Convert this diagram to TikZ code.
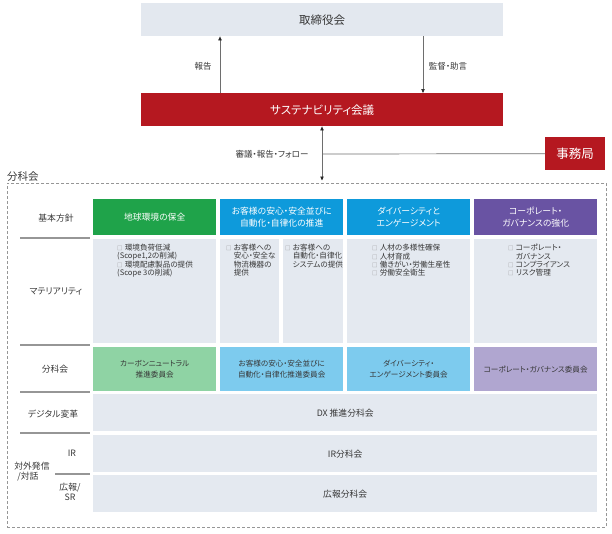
\documentclass[tikz,border=0pt]{standalone}
\usepackage{fontspec}
\setmainfont[RawFeature=+palt]{Noto Sans CJK JP}
\usetikzlibrary{arrows.meta}
\definecolor{topgray}{RGB}{227,232,239}
\definecolor{cellgray}{RGB}{228,233,240}
\definecolor{dred}{RGB}{181,24,32}
\definecolor{hgreen}{RGB}{31,163,74}
\definecolor{hblue}{RGB}{14,154,219}
\definecolor{hpurple}{RGB}{105,83,163}
\definecolor{lgreen}{RGB}{143,211,164}
\definecolor{lblue}{RGB}{125,203,238}
\definecolor{lpurple}{RGB}{176,166,208}
\definecolor{txt}{RGB}{55,55,55}
\definecolor{sepgray}{RGB}{150,150,150}
\definecolor{lngray}{RGB}{110,110,110}
\definecolor{sqgray}{RGB}{140,140,140}
\newcommand\bx{\makebox[7.6pt][l]{\color{sqgray}\fontsize{5.5}{5.5}\selectfont □}}
\newcommand\ind{\makebox[7.6pt]{}}
\begin{document}
\begin{tikzpicture}[x=1pt,y=-1pt,
  box/.style={inner sep=0pt, anchor=north west, align=center, text=txt},
  hdr/.style={box, text=white, minimum height=36pt, minimum width=123pt, font=\fontsize{8.8}{12}\selectfont},
  com/.style={box, minimum height=44pt, minimum width=123pt, font=\fontsize{7.6}{10.8}\selectfont},
  mat/.style={box, fill=cellgray, minimum height=104pt},
  mtxt/.style={inner sep=0pt, anchor=north west, align=left, text=txt, font=\fontsize{7.6}{8.4}\selectfont},
  wide/.style={box, fill=cellgray, minimum width=504pt, minimum height=37pt, font=\fontsize{8.8}{10}\selectfont},
  rlabel/.style={inner sep=0pt, text=txt, align=center, font=\fontsize{8.8}{10}\selectfont},
  sep/.style={draw=sepgray, line width=1.1pt},
  conn/.style={draw=lngray, line width=0.7pt},
  tipa/.tip={Triangle[length=4pt,width=3.4pt,color=black!85]},
  smalllbl/.style={inner sep=0pt, text=txt, font=\fontsize{8.5}{10}\selectfont}
]
\useasboundingbox (0,0) rectangle (612,533);

% top boxes
\node[box, fill=topgray, minimum width=362pt, minimum height=33pt, font=\fontsize{11.5}{13}\selectfont] (board) at (141,3) {取締役会};
\node[box, fill=dred, text=white, minimum width=362pt, minimum height=33pt, font=\fontsize{11.5}{13}\selectfont] (council) at (141,93) {サステナビリティ会議};
\node[box, fill=dred, text=white, minimum width=60pt, minimum height=33pt, font=\fontsize{12.5}{14}\selectfont] (office) at (545,137) {事務局};

% dashed frame
\node[box, draw=sepgray, dash pattern=on 3pt off 2pt, line width=0.8pt, minimum width=599pt, minimum height=344pt] (sub) at (7,183) {};
\node[inner sep=0pt, anchor=base west, text=txt, font=\fontsize{10.5}{12}\selectfont] (sublbl) at (7,180) {分科会};

% connectors
\coordinate (vx) at (322,154);
\draw[conn, -tipa] ([xshift=79pt]council.north west) -- ([xshift=79pt]board.south west);
\draw[conn, -tipa] ([xshift=282pt]board.south west) -- ([xshift=282pt]council.north west);
\draw[conn, tipa-tipa, shorten >=2.5pt] ([xshift=181pt]council.south west) -- ([xshift=181pt]council.south west |- sub.north);
\draw[conn] (vx) -- (office.west);
\node[smalllbl] (l1) at (203,66) {報告};
\node[smalllbl] (l2) at (448,66) {監督・助言};
\node[smalllbl] (l3) at (272,154) {審議・報告・フォロー};

% header row
\node[hdr, fill=hgreen] (h1) at (93,199) {地球環境の保全};
\node[hdr, fill=hblue] (h2) at (220,199) {お客様の安心・安全並びに\\自動化・自律化の推進};
\node[hdr, fill=hblue] (h3) at (347,199) {ダイバーシティと\\エンゲージメント};
\node[hdr, fill=hpurple] (h4) at (474,199) {コーポレート・\\ガバナンスの強化};

% materiality cells
\node[mat, minimum width=123pt] (m1) at (93,239) {};
\node[mat, minimum width=59pt] (m2a) at (220,239) {};
\node[mat, minimum width=60pt] (m2b) at (283,239) {};
\node[mat, minimum width=123pt] (m3) at (347,239) {};
\node[mat, minimum width=123pt] (m4) at (474,239) {};

\node[mtxt] (t1) at (117,244) {\bx 環境負荷低減\\(Scope1,2の削減)\\\bx 環境配慮製品の提供\\(Scope 3の削減)};
\node[mtxt] (t2a) at (226,244) {\bx お客様への\\\ind 安心・安全な\\\ind 物流機器の\\\ind 提供};
\node[mtxt] (t2b) at (285,244) {\bx お客様への\\\ind 自動化・自律化\\\ind システムの提供};
\node[mtxt] (t3) at (372,244) {\bx 人材の多様性確保\\\bx 人材育成\\\bx 働きがい・労働生産性\\\bx 労働安全衛生};
\node[mtxt] (t4) at (508,244) {\bx コーポレート・\\\ind ガバナンス\\\bx コンプライアンス\\\bx リスク管理};

% committee row
\node[com, fill=lgreen] (c1) at (93,347) {カーボンニュートラル\\推進委員会};
\node[com, fill=lblue] (c2) at (220,347) {お客様の安心・安全並びに\\自動化・自律化推進委員会};
\node[com, fill=lblue] (c3) at (347,347) {ダイバーシティ・\\エンゲージメント委員会};
\node[com, fill=lpurple] (c4) at (474,347) {コーポレート・ガバナンス委員会};

% wide rows
\node[wide] (dx) at (93,394) {DX 推進分科会};
\node[wide] (ir) at (93,435) {IR分科会};
\node[wide] (pr) at (93,475) {広報分科会};

% row labels
\node[rlabel] (r1) at (56,218) {基本方針};
\node[rlabel] (r2) at (56,291) {マテリアリティ};
\node[rlabel] (r3) at (55,369) {分科会};
\node[rlabel] (r4) at (53,414) {デジタル変革};
\node[rlabel, align=left] (r5) at (32,472) {対外発信\\\makebox[3pt]{}/対話};
\node[rlabel] (r6) at (72,453) {IR};
\node[rlabel] (r7) at (70,492) {広報/\\SR};

% separators
\draw[sep] (20,238) -- (90,238);
\draw[sep] (20,345) -- (90,345);
\draw[sep] (20,392) -- (90,392);
\draw[sep] (20,433) -- (90,433);
\draw[sep] (55,474) -- (90,474);
\end{tikzpicture}
\end{document}
